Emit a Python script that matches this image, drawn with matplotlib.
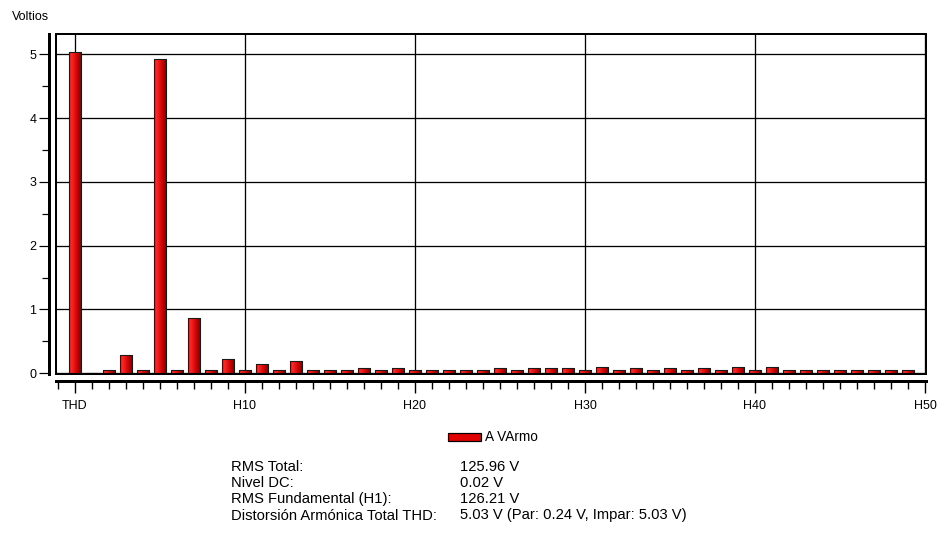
import numpy as np
import matplotlib
matplotlib.use("Agg")
import matplotlib.pyplot as plt
from matplotlib.patches import Rectangle
from matplotlib.colors import LinearSegmentedColormap
from matplotlib.ticker import MultipleLocator, FixedLocator

plt.rcParams['font.family'] = ['Liberation Sans', 'DejaVu Sans']

# Harmonic spectrum: THD first, then H1..H49 (volts)
categories = ['THD'] + ['H%d' % n for n in range(1, 50)]
volts = [5.03, 0.00, 0.05, 0.28, 0.05, 4.93, 0.05, 0.87, 0.05, 0.23,
         0.05, 0.14, 0.05, 0.19, 0.05, 0.05, 0.05, 0.08, 0.05, 0.08,
         0.05, 0.05, 0.05, 0.05, 0.05, 0.08, 0.05, 0.08, 0.08, 0.08,
         0.05, 0.10, 0.05, 0.08, 0.05, 0.08, 0.05, 0.08, 0.05, 0.10,
         0.05, 0.10, 0.05, 0.05, 0.05, 0.05, 0.05, 0.05, 0.05, 0.05]
xtick_pos = [0, 10, 20, 30, 40, 50]
xtick_labels = ['THD', 'H10', 'H20', 'H30', 'H40', 'H50']
series_name = 'A VArmo'

summary_labels = ['RMS Total:', 'Nivel DC:', 'RMS Fundamental (H1):',
                  'Distorsión Armónica Total THD:']
summary_values = ['125.96 V', '0.02 V', '126.21 V',
                  '5.03 V (Par: 0.24 V, Impar: 5.03 V)']

W, H = 940, 538
fig = plt.figure(figsize=(W / 100, H / 100), dpi=100)
px = 72 / 100  # points per pixel

left, right, top, bottom = 55.7, 925.7, 34.0, 374.3
ax = fig.add_axes([left / W, 1 - bottom / H, (right - left) / W, (bottom - top) / H])

pos = np.arange(len(volts))

# cylinder-like shading across each bar
shade = LinearSegmentedColormap.from_list('shade', [
    (0.00, (0.50, 0.00, 0.00)),
    (0.12, (0.93, 0.20, 0.20)),
    (0.30, (0.95, 0.12, 0.12)),
    (0.55, (0.85, 0.03, 0.03)),
    (0.85, (0.62, 0.00, 0.00)),
    (1.00, (0.42, 0.00, 0.00)),
])
grad = np.linspace(0, 1, 64).reshape(1, -1)

bars = ax.bar(pos, volts, width=0.72, facecolor='none',
              edgecolor='#1a1a1a', linewidth=1.1 * px, zorder=3)
for b in bars:
    x0, w, h = b.get_x(), b.get_width(), b.get_height()
    if h <= 0:
        continue
    im = ax.imshow(grad, cmap=shade, aspect='auto', interpolation='bilinear',
                   extent=(x0, x0 + w, 0, h), zorder=2.5)
    im.set_clip_path(b)

ax.set_xlim(-1.13, 50.04)
ax.set_ylim(-0.016, 5.318)

# grid
ax.set_axisbelow(True)
ax.grid(True, which='major', color='black', linewidth=1.3 * px)

# plot frame
ax.add_patch(Rectangle((0, 0), 1, 1, transform=ax.transAxes, fill=False,
                       edgecolor='black', linewidth=2 * px, clip_on=False, zorder=4))

# detached axis lines
for s in ('top', 'right'):
    ax.spines[s].set_visible(False)
for s in ('left', 'bottom'):
    ax.spines[s].set_position(('outward', 6.4 * px))
    ax.spines[s].set_linewidth(3 * px)

ax.xaxis.set_major_locator(FixedLocator(xtick_pos))
ax.set_xticklabels(xtick_labels)
ax.xaxis.set_minor_locator(MultipleLocator(1))
ax.yaxis.set_major_locator(MultipleLocator(1))
ax.yaxis.set_minor_locator(MultipleLocator(0.5))

tick_fs = 9.0
ax.tick_params(axis='x', which='major', length=12 * px, width=1.4 * px,
               pad=7 * px, labelsize=tick_fs, direction='out')
ax.tick_params(axis='x', which='minor', length=8 * px, width=1.4 * px,
               direction='out')
ax.tick_params(axis='y', which='major', length=10 * px, width=1.2 * px,
               pad=3 * px, labelsize=tick_fs, direction='out')
ax.tick_params(axis='y', which='minor', length=7 * px, width=1.2 * px,
               direction='out')

fig.text(12 / W, 1 - 16.5 / H, 'Voltios', fontsize=tick_fs, ha='left', va='center')

# legend swatch
fig.add_artist(Rectangle((448 / W, 1 - 441 / H), 33 / W, 8 / H,
                         transform=fig.transFigure, facecolor='#e00000',
                         edgecolor='black', linewidth=1.2 * px))
fig.text(485 / W, 1 - 437 / H, series_name, fontsize=9.8, ha='left', va='center')

# summary table
row_y = [466.7, 482.7, 499.0, 515.5]
for lab, val, y in zip(summary_labels, summary_values, row_y):
    fig.text(231 / W, 1 - y / H, lab, fontsize=10.6, ha='left', va='center')
    fig.text(460 / W, 1 - y / H, val, fontsize=10.6, ha='left', va='center')

fig.savefig('out.png', dpi=100)
